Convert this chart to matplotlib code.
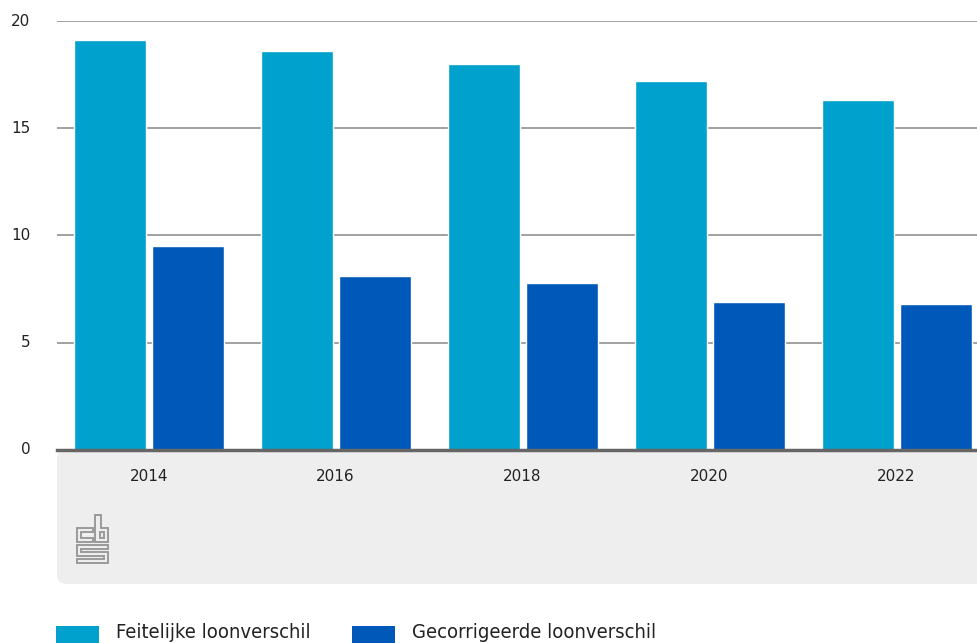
import matplotlib
matplotlib.use('Agg')
import matplotlib.pyplot as plt
from matplotlib.patches import FancyBboxPatch, Polygon, Rectangle

years = [2014, 2016, 2018, 2020, 2022]
feitelijk = [19.1, 18.6, 18.0, 17.2, 16.3]
gecorrigeerd = [9.5, 8.1, 7.8, 6.9, 6.8]
series_labels = ['Feitelijke loonverschil', 'Gecorrigeerde loonverschil']
y_ticks = [0, 5, 10, 15, 20]

LIGHT = '#00a1cd'
DARK = '#0058b8'
W, H = 977, 643


def px(x, y):
    # pixel position (from top-left) to figure fraction
    return x / W, 1 - y / H


fig = plt.figure(figsize=(W / 100, H / 100), dpi=100)

# grey footer panel under the x axis
x0, y0 = px(57, 584)
panel = FancyBboxPatch((x0, y0), 1.2, (584 - 450) / H,
                       boxstyle='round,pad=0,rounding_size=0.012',
                       transform=fig.transFigure, facecolor='#eeeeee',
                       edgecolor='none', zorder=0)
fig.add_artist(panel)

ax = fig.add_axes([57 / W, 1 - 450 / H, (W - 57) / W, (450 - 21) / H])
ax.set_facecolor('none')

off, bw = 0.417, 0.77
ax.bar([y - off for y in years], feitelijk, width=bw, color=LIGHT,
       edgecolor='white', linewidth=1, zorder=3)
ax.bar([y + off for y in years], gecorrigeerd, width=bw, color=DARK,
       edgecolor='white', linewidth=1, zorder=3)

ax.set_xlim(2013.02, 2022.86)
ax.set_ylim(0, 20)
ax.set_yticks(y_ticks)
ax.set_xticks(years)
ax.set_xticklabels([str(y) for y in years])
ax.tick_params(axis='y', length=0, pad=19, labelsize=11, labelcolor='#222222')
ax.tick_params(axis='x', length=0, pad=14, labelsize=11, labelcolor='#222222')
for lab in ax.get_yticklabels():
    lab.set_verticalalignment('center')

for v in y_ticks[1:]:
    ax.axhline(v, color='#9a9a9a', linewidth=1.3, zorder=1)

for s in ['top', 'right', 'left']:
    ax.spines[s].set_visible(False)
ax.spines['bottom'].set_color('#666666')
ax.spines['bottom'].set_linewidth(2.5)
ax.spines['bottom'].set_zorder(4)

# cbs logo, outlined
logo_shapes = [
    [(93, 528), (77, 528), (77, 542), (93, 542), (93, 538), (81, 538), (81, 532), (93, 532)],
    [(95, 515), (101, 515), (101, 528), (108, 528), (108, 542), (95, 542)],
    [(100, 532), (104, 532), (104, 538), (100, 538)],
    [(77, 545), (108, 545), (108, 549), (81, 549), (81, 552), (108, 552), (108, 563),
     (77, 563), (77, 559), (104, 559), (104, 556), (77, 556)],
]
for shape in logo_shapes:
    fig.add_artist(Polygon([px(x, y) for x, y in shape], closed=True,
                           transform=fig.transFigure, facecolor='none',
                           edgecolor='#9a9a9a', linewidth=1.4))

# legend at the bottom
for (sx, tx), label, col in zip([(56, 116), (352, 412)], series_labels, [LIGHT, DARK]):
    rx, ry = px(sx, 643)
    fig.add_artist(Rectangle((rx, ry), 43 / W, 17 / H, transform=fig.transFigure,
                             facecolor=col, edgecolor='none'))
    fig.text(*px(tx, 638), label, fontsize=14.5, color='#222222',
             family='DejaVu Sans', fontstretch='condensed',
             va='baseline', ha='left')

fig.savefig('out.png', dpi=100)
